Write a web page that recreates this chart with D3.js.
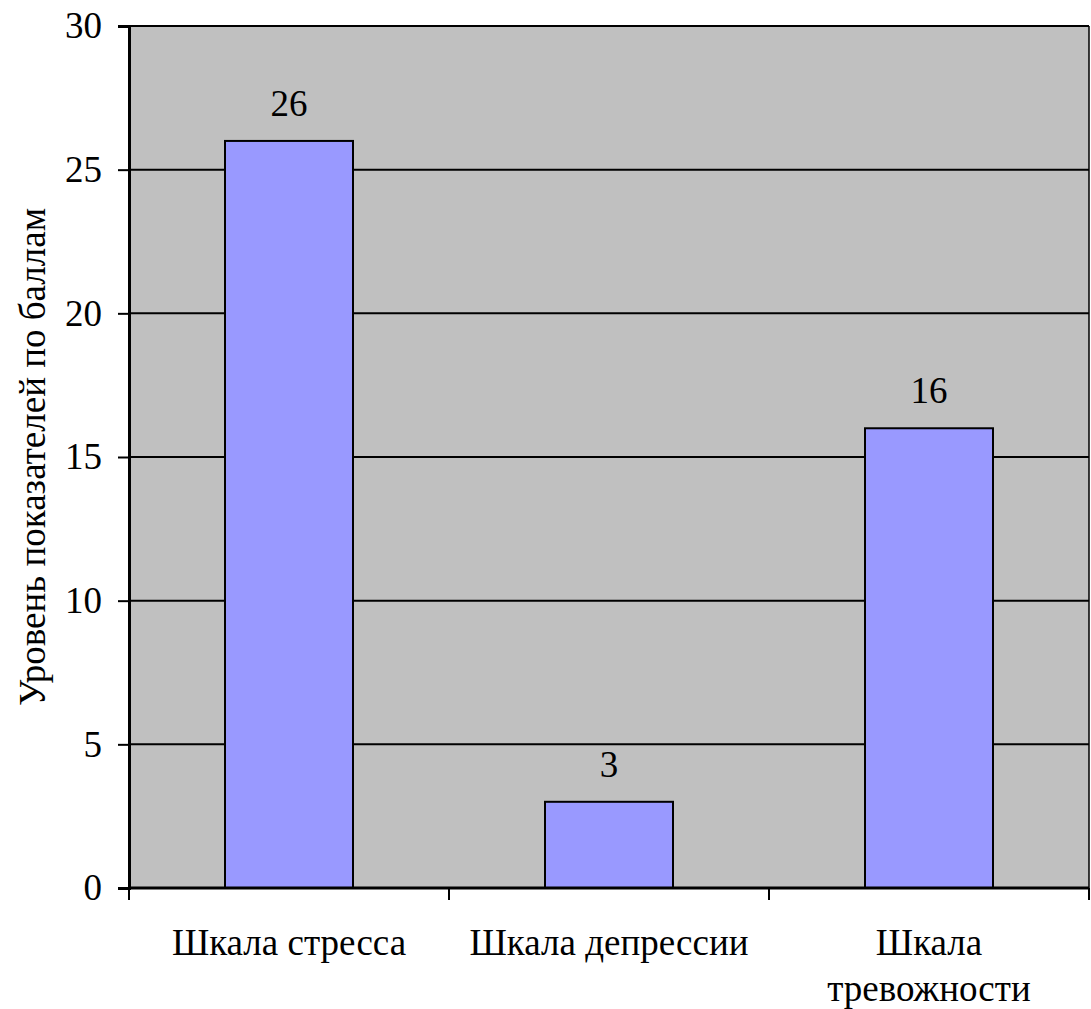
<!DOCTYPE html>
<html>
<head>
<meta charset="utf-8">
<script src="https://cdn.jsdelivr.net/npm/d3@7"></script>
<style>
  body { margin: 0; background: #fff; }
</style>
</head>
<body>
<svg id="chart" width="1091" height="1009"></svg>
<script>
// Scale scores per category
const categories = ["Шкала стресса", "Шкала депрессии", "Шкала тревожности"];
const values = [26, 3, 16];
const yTicks = [0, 5, 10, 15, 20, 25, 30];
const yTitle = "Уровень показателей по баллам";

const FONT = "'Liberation Serif', serif";
const FS = "37px";
const margin = { top: 26, right: 2, bottom: 121, left: 129 };
const width = 1091, height = 1009;
const svg = d3.select("#chart");

const x = d3.scaleBand().domain(categories).range([margin.left, width - margin.right]).padding(0);
const y = d3.scaleLinear().domain([0, 30]).range([height - margin.bottom, margin.top]);

// plot background
svg.append("rect")
  .attr("x", margin.left).attr("y", margin.top)
  .attr("width", width - margin.right - margin.left)
  .attr("height", y(0) - margin.top)
  .attr("fill", "#c0c0c0");

// horizontal gridlines
svg.append("g").selectAll("line").data(yTicks.filter(d => d > 0)).join("line")
  .attr("x1", margin.left).attr("x2", width - margin.right)
  .attr("y1", d => y(d)).attr("y2", d => y(d))
  .attr("stroke", "#000").attr("stroke-width", 2);

// right border
svg.append("line")
  .attr("x1", width - margin.right).attr("x2", width - margin.right)
  .attr("y1", margin.top).attr("y2", y(0))
  .attr("stroke", "#000").attr("stroke-width", 1.5);

// bars
const barW = x.bandwidth() * 0.4;
svg.append("g").selectAll("rect").data(categories).join("rect")
  .attr("x", (d) => x(d) + (x.bandwidth() - barW) / 2)
  .attr("y", (d, i) => y(values[i]))
  .attr("width", barW)
  .attr("height", (d, i) => y(0) - y(values[i]))
  .attr("fill", "#9999ff")
  .attr("stroke", "#000").attr("stroke-width", 2);

// value labels
svg.append("g").selectAll("text").data(categories).join("text")
  .attr("x", d => x(d) + x.bandwidth() / 2)
  .attr("y", (d, i) => y(values[i]) - 25)
  .attr("text-anchor", "middle")
  .style("font-family", FONT)
  .style("font-size", FS)
  .attr("fill", "#000")
  .text((d, i) => values[i]);

// y axis
const yAxis = svg.append("g")
  .attr("transform", `translate(${margin.left},0)`)
  .call(d3.axisLeft(y).tickValues(yTicks).tickSize(11).tickPadding(16));
yAxis.attr("font-family", null).attr("font-size", null);
yAxis.select(".domain").attr("stroke", "#000").attr("stroke-width", 3);
yAxis.selectAll(".tick line").attr("stroke", "#000").attr("stroke-width", 2);
yAxis.selectAll(".tick text")
  .style("font-family", FONT)
  .style("font-size", FS)
  .attr("fill", "#000");

// x axis: tick marks at category boundaries
const bottom = y(0);
svg.append("line")
  .attr("x1", margin.left).attr("x2", width - margin.right)
  .attr("y1", bottom).attr("y2", bottom)
  .attr("stroke", "#000").attr("stroke-width", 3);
const boundaries = categories.map(d => x(d)).concat([width - margin.right]);
svg.append("g").selectAll("line").data(boundaries).join("line")
  .attr("x1", d => d).attr("x2", d => d)
  .attr("y1", bottom).attr("y2", bottom + 12)
  .attr("stroke", "#000").attr("stroke-width", 2);

// category labels (wrapped where needed)
const catLines = [["Шкала стресса"], ["Шкала депрессии"], ["Шкала", "тревожности"]];
const catG = svg.append("g").selectAll("text").data(categories).join("text")
  .attr("x", d => x(d) + x.bandwidth() / 2)
  .attr("y", 955)
  .attr("text-anchor", "middle")
  .style("font-family", FONT)
  .style("font-size", FS)
  .attr("fill", "#000");
catG.each(function(d, i) {
  const t = d3.select(this);
  catLines[i].forEach((line, j) => {
    t.append("tspan")
      .attr("x", x(d) + x.bandwidth() / 2)
      .attr("dy", j === 0 ? 0 : 46)
      .text(line);
  });
});

// y axis title
svg.append("text")
  .attr("transform", `translate(45,${(margin.top + bottom) / 2}) rotate(-90)`)
  .attr("text-anchor", "middle")
  .style("font-family", FONT)
  .style("font-size", FS)
  .attr("fill", "#000")
  .text(yTitle);
</script>
</body>
</html>
